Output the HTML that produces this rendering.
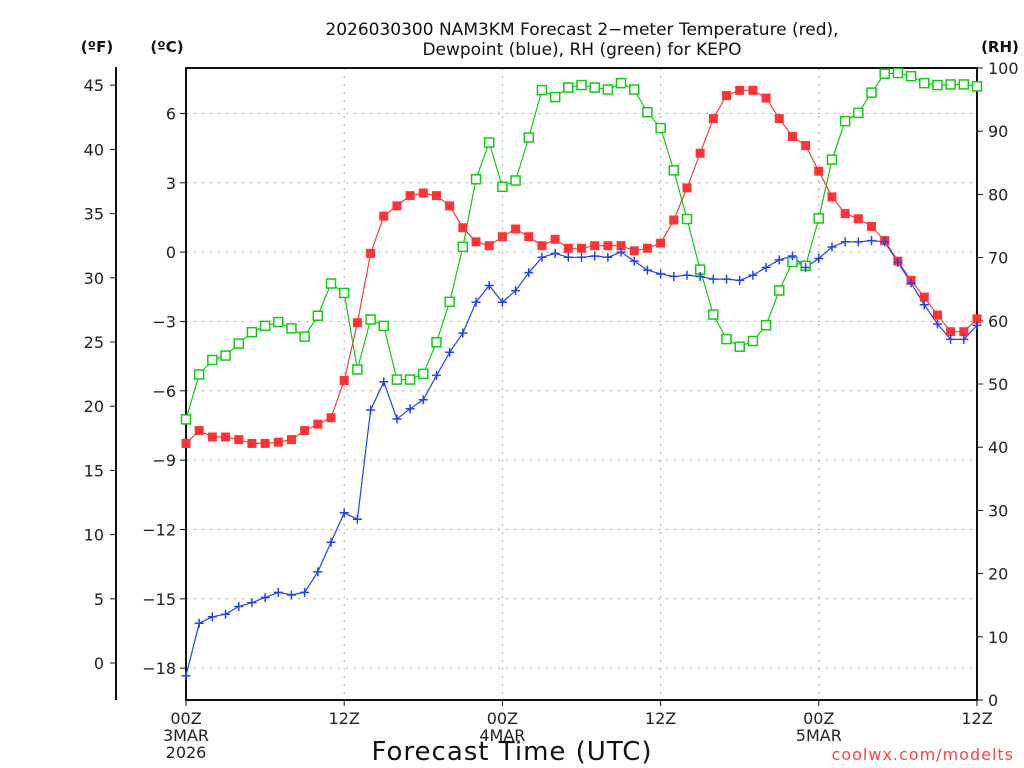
<!DOCTYPE html>
<html><head><meta charset="utf-8">
<style>
html,body{margin:0;padding:0;background:#fff;}
svg{display:block;font-family:"DejaVu Sans","Liberation Sans",sans-serif;}
</style></head>
<body>
<svg id="chart" width="1024" height="768" viewBox="0 0 1024 768" xmlns="http://www.w3.org/2000/svg">
<g id="grid"></g>
<g id="axes"></g>
<g id="series"></g>
<text x="582" y="35" text-anchor="middle" font-size="17" fill="#111">2026030300 NAM3KM Forecast 2−meter Temperature (red),</text>
<text x="582" y="55" text-anchor="middle" font-size="17" fill="#111">Dewpoint (blue), RH (green) for KEPO</text>
<text x="97" y="52" text-anchor="middle" font-size="15" font-weight="bold" fill="#111">(ºF)</text>
<text x="167" y="52" text-anchor="middle" font-size="15" font-weight="bold" fill="#111">(ºC)</text>
<text x="1000" y="52" text-anchor="middle" font-size="15" font-weight="bold" fill="#111">(RH)</text>
<text x="512" y="760" text-anchor="middle" font-size="26" fill="#111" letter-spacing="1">Forecast Time (UTC)</text>
<text x="1014" y="760" text-anchor="end" font-size="16" fill="#f44" letter-spacing="1">coolwx.com/modelts</text>
</svg>
<script>
const hours = [0,1,2,3,4,5,6,7,8,9,10,11,12,13,14,15,16,17,18,19,20,21,22,23,24,25,26,27,28,29,30,31,32,33,34,35,36,37,38,39,40,41,42,43,44,45,46,47,48,49,50,51,52,53,54,55,56,57,58,59,60];
const tempF = [17.1,18.1,17.6,17.6,17.4,17.1,17.1,17.2,17.4,18.1,18.6,19.1,22.0,26.5,31.9,34.8,35.6,36.4,36.6,36.4,35.6,33.9,32.8,32.5,33.2,33.8,33.2,32.5,33.0,32.3,32.3,32.5,32.5,32.5,32.1,32.3,32.7,34.5,37.0,39.7,42.4,44.2,44.6,44.6,44.0,42.4,41.0,40.3,38.3,36.3,35.0,34.6,34.0,32.9,31.3,29.8,28.5,27.1,25.8,25.8,26.8];
const dewF = [-1.0,3.1,3.6,3.8,4.4,4.7,5.1,5.5,5.3,5.5,7.1,9.4,11.7,11.2,19.7,21.9,19.0,19.8,20.5,22.4,24.2,25.7,28.1,29.4,28.1,29.0,30.4,31.6,31.9,31.6,31.6,31.7,31.6,32.0,31.3,30.6,30.3,30.1,30.2,30.1,29.9,29.9,29.8,30.2,30.8,31.4,31.7,30.8,31.5,32.4,32.8,32.8,32.9,32.8,31.2,29.6,27.9,26.4,25.2,25.2,26.3];
const rh = [44.4,51.5,53.8,54.5,56.4,58.2,59.2,59.8,58.8,57.5,60.8,65.9,64.4,52.3,60.2,59.2,50.7,50.7,51.6,56.6,63.0,71.7,82.4,88.2,81.2,82.2,89.0,96.5,95.4,96.9,97.3,96.9,96.6,97.6,96.6,93.0,90.5,83.8,76.1,68.1,61.0,57.1,55.9,56.8,59.3,64.8,69.3,68.7,76.2,85.5,91.6,92.9,96.1,99.1,99.2,98.7,97.6,97.3,97.4,97.4,97.1];
const fTicks = [0,5,10,15,20,25,30,35,40,45];
const cTicks = [-18,-15,-12,-9,-6,-3,0,3,6];
const rhTicks = [0,10,20,30,40,50,60,70,80,90,100];
const xTickHours = [0,12,24,36,48,60];
const xTickLabels = [["00Z","3MAR","2026"],["12Z"],["00Z","4MAR"],["12Z"],["00Z","5MAR"],["12Z"]];

const L=186,R=977,T=68,B=700;
const xs = h => L + h*(R-L)/60;
const yF = f => 663 - f*12.84;
const yC = c => yF(c*9/5+32);
const yR = r => B - r*(B-T)/100;
const NS="http://www.w3.org/2000/svg";
function mk(tag, attrs, parent){const e=document.createElementNS(NS,tag);for(const k in attrs)e.setAttribute(k,attrs[k]);parent.appendChild(e);return e;}
const grid=document.getElementById('grid'), axes=document.getElementById('axes'), ser=document.getElementById('series');

cTicks.forEach(c=>{
  const y=yC(c);
  const g=mk('line',{x1:L,x2:R,y1:y,y2:y,stroke:'#aaa','stroke-width':1,'stroke-dasharray':'2,6'},grid);
  
  
  const t=mk('line',{x1:180,x2:L,y1:y,y2:y,stroke:'#111','stroke-width':1},axes);
  
  
  const tx=mk('text',{x:176,y:y+6,'text-anchor':'end','font-size':16,fill:'#222'},axes);
  tx.textContent=(c<0?'−':'')+Math.abs(c);
  
  
});
xTickHours.forEach((h,i)=>{
  const x=xs(h);
  if(h>0&&h<60){
    const g=mk('line',{x1:x,x2:x,y1:T,y2:B,stroke:'#aaa','stroke-width':1,'stroke-dasharray':'2,6'},grid);
    
    
  }
  const t=mk('line',{x1:x,x2:x,y1:B,y2:B+6,stroke:'#111','stroke-width':1},axes);
  
  
  xTickLabels[i].forEach((s,j)=>{
    const tx=mk('text',{x:x,y:724+j*17,'text-anchor':'middle','font-size':16,fill:'#222'},axes);
    tx.textContent=s;
    
    
  });
});
fTicks.forEach(f=>{
  const y=yF(f);
  const t=mk('line',{x1:110,x2:116,y1:y,y2:y,stroke:'#111','stroke-width':1},axes);
  
  
  const tx=mk('text',{x:104,y:y+6,'text-anchor':'end','font-size':16,fill:'#222'},axes);
  tx.textContent=f;
  
  
});
rhTicks.forEach(r=>{
  const y=yR(r);
  const t=mk('line',{x1:R,x2:R+6,y1:y,y2:y,stroke:'#111','stroke-width':1},axes);
  
  
  const tx=mk('text',{x:988,y:y+6,'text-anchor':'start','font-size':16,fill:'#222'},axes);
  tx.textContent=r;
  
  
});
const fAxis=mk('line',{x1:116,x2:116,y1:67,y2:700,stroke:'#111','stroke-width':2},axes);


const frame=mk('rect',{x:L,y:T,width:R-L,height:B-T,fill:'none',stroke:'#111','stroke-width':2},axes);



function line(vals, yfn, color, name){
  const pts=vals.map((v,i)=>xs(hours[i]).toFixed(1)+','+yfn(v).toFixed(1)).join(' ');
  const p=mk('polyline',{points:pts,fill:'none',stroke:color,'stroke-width':1.2},ser);
  
  
}
line(rh,yR,'#11cc11','rh-line');
line(tempF,yF,'#f04040','temperature-line');
line(dewF,yF,'#2244ee','dewpoint-line');
rh.forEach((v,i)=>{
  const m=mk('rect',{x:xs(hours[i])-4.5,y:yR(v)-4.5,width:9,height:9,fill:'#fff',stroke:'#11cc11','stroke-width':1.5},ser);
  
  
});
tempF.forEach((v,i)=>{
  const m=mk('rect',{x:xs(hours[i])-4.5,y:yF(v)-4.5,width:9,height:9,fill:'#f33'},ser);
  
  
});
dewF.forEach((v,i)=>{
  const x=xs(hours[i]),y=yF(v);
  const m=mk('path',{d:`M${x-4.5},${y}H${x+4.5}M${x},${y-4.5}V${y+4.5}`,stroke:'#2244ee','stroke-width':1.5},ser);
  
  
});
</script>
</body></html>
